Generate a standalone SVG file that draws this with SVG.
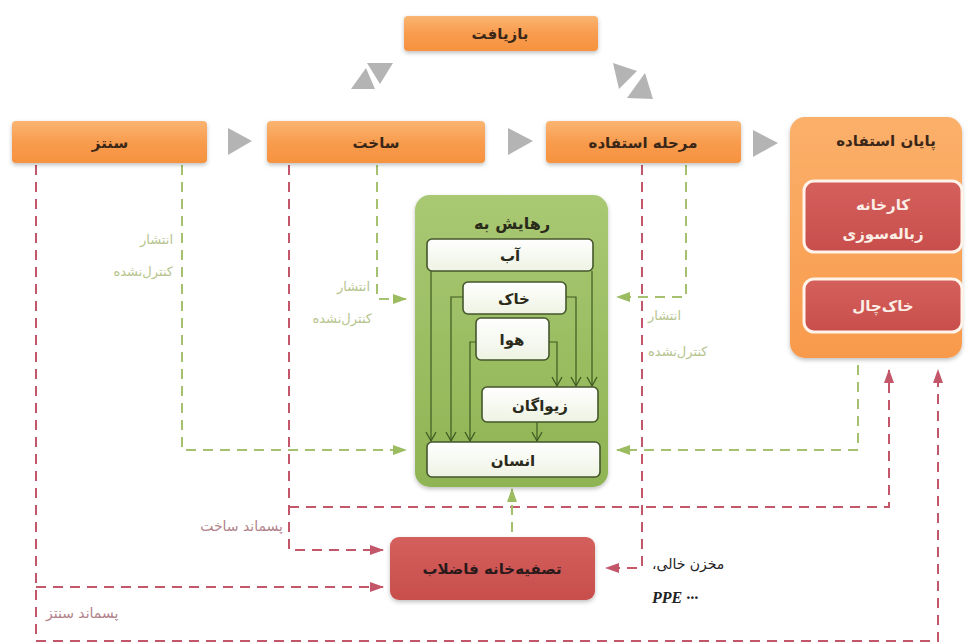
<svg xmlns="http://www.w3.org/2000/svg" width="966" height="644" viewBox="0 0 966 644">
<defs>
<linearGradient id="gOr" x1="0" y1="0" x2="0" y2="1"><stop offset="0" stop-color="#fbb572"/><stop offset="0.5" stop-color="#f89c4e"/><stop offset="1" stop-color="#f6923f"/></linearGradient>
<linearGradient id="gOr2" x1="0" y1="0" x2="0" y2="1"><stop offset="0" stop-color="#fbb06a"/><stop offset="1" stop-color="#f89a4c"/></linearGradient>
<linearGradient id="gGr" x1="0" y1="0" x2="0" y2="1"><stop offset="0" stop-color="#a9c873"/><stop offset="1" stop-color="#8fb453"/></linearGradient>
<linearGradient id="gWh" x1="0" y1="0" x2="0" y2="1"><stop offset="0" stop-color="#ffffff"/><stop offset="1" stop-color="#eef3e3"/></linearGradient>
<linearGradient id="gRd" x1="0" y1="0" x2="0" y2="1"><stop offset="0" stop-color="#d4605c"/><stop offset="1" stop-color="#c84e4c"/></linearGradient>
<filter id="sh" x="-10%" y="-20%" width="120%" height="150%"><feDropShadow dx="0" dy="2" stdDeviation="2" flood-color="#000" flood-opacity="0.25"/></filter>
<marker id="aR" markerUnits="userSpaceOnUse" markerWidth="14" markerHeight="12" refX="13" refY="6" orient="auto"><path d="M0,1 L14,6 L0,11 Z" fill="#c4566a"/></marker>
<marker id="aG" markerUnits="userSpaceOnUse" markerWidth="14" markerHeight="12" refX="13" refY="6" orient="auto"><path d="M0,1 L14,6 L0,11 Z" fill="#9cbc62"/></marker>
<marker id="aV" markerUnits="userSpaceOnUse" markerWidth="12" markerHeight="12" refX="10" refY="6" orient="auto"><path d="M1,1 L10,6 L1,11" fill="none" stroke="#3f5a22" stroke-width="1.3"/></marker>
</defs>
<style>
.ob{fill:url(#gOr);filter:url(#sh)}
.lb{font-family:"DejaVu Sans",sans-serif;font-weight:bold;font-size:15px;fill:#3a2718;text-anchor:middle}
.wb{fill:url(#gWh);stroke:#44562c;stroke-width:1.6}
.rd{fill:none;stroke:#c4566a;stroke-width:2;stroke-dasharray:10 7}
.gd{fill:none;stroke:#a5c170;stroke-width:2;stroke-dasharray:10 7}
.in{fill:none;stroke:#3f5a22;stroke-width:1.2}
.tri{fill:#b4b4b4}
.gl{font-family:"DejaVu Sans",sans-serif;font-size:13px;fill:#b6c48e}
.pl{font-family:"DejaVu Sans",sans-serif;font-size:14px;fill:#b1828a}
</style>
<rect width="966" height="644" fill="#ffffff"/>

<g id="arrows-gray">
<polygon class="tri" points="228,128 252,141 228,155"/>
<polygon class="tri" points="508,128 533,141 508,155"/>
<polygon class="tri" points="753,130 778,143 753,157"/>
<polygon class="tri" points="367,63 393,63 380,84"/>
<polygon class="tri" points="351,89 375,89 366,68"/>
<polygon class="tri" points="613,63 637,71 619,89"/>
<polygon class="tri" points="627,98 653,99 645,73"/>
</g>

<g id="connectors">
<path class="rd" d="M36,165 V641 H938 V370" marker-end="url(#aR)"/>
<path class="rd" d="M36,587 H383" marker-end="url(#aR)"/>
<path class="rd" d="M289,165 V550 H383" marker-end="url(#aR)"/>
<path class="rd" d="M289,507 H889 V370" marker-end="url(#aR)"/>
<path class="rd" d="M642,165 V568 H606" marker-end="url(#aR)"/>
<path class="gd" d="M182,165 V450 H406" marker-end="url(#aG)"/>
<path class="gd" d="M377,165 V299 H406" marker-end="url(#aG)"/>
<path class="gd" d="M686,165 V297 H617" marker-end="url(#aG)"/>
<path class="gd" d="M858,365 V450 H617" marker-end="url(#aG)"/>
<path class="gd" d="M512,532 V489" stroke-dasharray="6 5" marker-end="url(#aG)"/>
</g>

<g id="n-recycle"><rect class="ob" x="404" y="16" width="194" height="35" rx="4"/><text class="lb" x="500" y="39">بازیافت</text></g>
<g id="n-synth"><rect class="ob" x="12" y="121" width="195" height="42" rx="4"/><text class="lb" x="110" y="148">سنتز</text></g>
<g id="n-build"><rect class="ob" x="267" y="121" width="218" height="42" rx="4"/><text class="lb" x="376" y="148">ساخت</text></g>
<g id="n-use"><rect class="ob" x="546" y="121" width="195" height="42" rx="4"/><text class="lb" x="643" y="148">مرحله استفاده</text></g>

<g id="n-end">
<rect x="790" y="117" width="172" height="241" rx="15" fill="url(#gOr2)" filter="url(#sh)"/>
<text class="lb" x="886" y="146">پایان استفاده</text>
<rect x="804" y="181" width="158" height="71" rx="10" fill="url(#gRd)" stroke="#fff3ea" stroke-width="3"/>
<text class="lb" x="883" y="210" style="fill:#fbeee6">کارخانه</text>
<text class="lb" x="883" y="239" style="fill:#fbeee6">زباله‌سوزی</text>
<rect x="804" y="279" width="158" height="53" rx="10" fill="url(#gRd)" stroke="#fff3ea" stroke-width="3"/>
<text class="lb" x="883" y="311" style="fill:#fbeee6">خاک‌چال</text>
</g>

<g id="n-release">
<rect x="415" y="195" width="193" height="292" rx="15" fill="url(#gGr)" filter="url(#sh)"/>
<text class="lb" x="512" y="229" style="font-size:16px;fill:#2a2a1a">رهایش به</text>
</g>
<g id="internal">
<path class="in" d="M431,271 V441" marker-end="url(#aV)"/>
<path class="in" d="M592,271 V386" marker-end="url(#aV)"/>
<path class="in" d="M463,297 H451 V441" marker-end="url(#aV)"/>
<path class="in" d="M566,297 H576 V386" marker-end="url(#aV)"/>
<path class="in" d="M476,342 H470 V441" marker-end="url(#aV)"/>
<path class="in" d="M549,342 H557 V386" marker-end="url(#aV)"/>
<path class="in" d="M537,422 V441" marker-end="url(#aV)"/>
</g>
<g id="n-water"><rect class="wb" x="427" y="239" width="166" height="32" rx="5"/><text class="lb" x="510" y="261" style="fill:#2a2a1a">آب</text></g>
<g id="n-soil"><rect class="wb" x="463" y="282" width="103" height="32" rx="5"/><text class="lb" x="514" y="304" style="fill:#2a2a1a">خاک</text></g>
<g id="n-air"><rect class="wb" x="476" y="318" width="73" height="42" rx="5"/><text class="lb" x="512" y="345" style="fill:#2a2a1a">هوا</text></g>
<g id="n-biota"><rect class="wb" x="482" y="387" width="116" height="35" rx="5"/><text class="lb" x="540" y="411" style="fill:#2a2a1a">زیواگان</text></g>
<g id="n-human"><rect class="wb" x="427" y="442" width="173" height="35" rx="5"/><text class="lb" x="513" y="466" style="fill:#2a2a1a">انسان</text></g>

<g id="n-wwtp"><rect x="390" y="537" width="205" height="63" rx="9" fill="url(#gRd)" filter="url(#sh)"/><text class="lb" x="492" y="574" style="fill:#2a1a1a">تصفیه‌خانه فاضلاب</text></g>

<g id="labels">
<text class="gl" x="173" y="244" text-anchor="end">انتشار</text>
<text class="gl" x="173" y="276" text-anchor="end">کنترل‌نشده</text>
<text class="gl" x="370" y="291" text-anchor="end">انتشار</text>
<text class="gl" x="372" y="323" text-anchor="end">کنترل‌نشده</text>
<text class="gl" x="648" y="320">انتشار</text>
<text class="gl" x="648" y="356">کنترل‌نشده</text>
<text class="pl" x="283" y="531" text-anchor="end">پسماند ساخت</text>
<text class="pl" x="46" y="618">پسماند سنتز</text>
<text x="652" y="569" font-family="DejaVu Sans, sans-serif" font-size="14" fill="#222">&#x200F;مخزن خالی،&#x200F;</text>
<text x="652" y="603" font-family="Liberation Serif, serif" font-size="16" font-style="italic" font-weight="bold" fill="#222">PPE ···</text>
</g>
</svg>
